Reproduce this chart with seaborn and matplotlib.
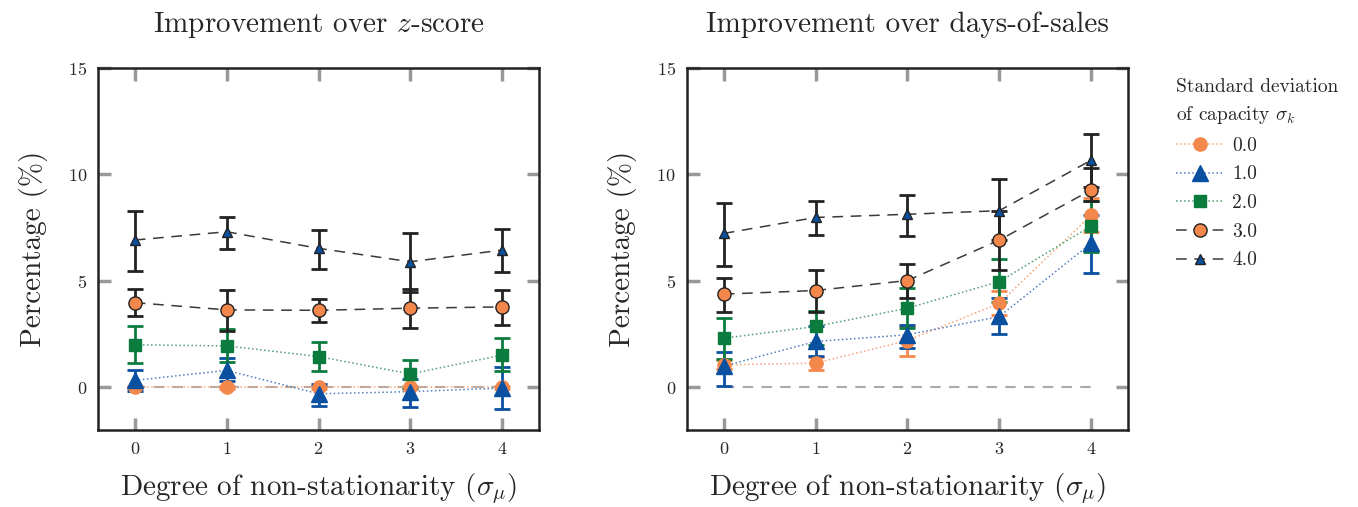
import numpy as np
import pandas as pd
import matplotlib
matplotlib.use("Agg")
import matplotlib.pyplot as plt
import seaborn as sns

# Dados
x = [0, 1, 2, 3, 4]
levels = ["0.0", "1.0", "2.0", "3.0", "4.0"]

# Painel esquerdo: melhoria sobre z-score
z_mean = {
    "0.0": [0.0, 0.0, 0.0, 0.0, 0.0],
    "1.0": [0.33, 0.8, -0.3, -0.2, -0.03],
    "2.0": [2.0, 1.95, 1.45, 0.63, 1.52],
    "3.0": [3.98, 3.64, 3.62, 3.72, 3.78],
    "4.0": [6.92, 7.31, 6.53, 5.9, 6.45],
}
z_lo = {
    "0.0": [-0.08, -0.08, -0.08, -0.08, -0.08],
    "1.0": [-0.19, 0.3, -0.89, -0.94, -1.02],
    "2.0": [1.13, 1.17, 0.75, -0.05, 0.75],
    "3.0": [3.33, 2.67, 3.05, 2.77, 2.95],
    "4.0": [5.48, 6.5, 5.58, 4.5, 5.44],
}
z_hi = {
    "0.0": [0.08, 0.08, 0.08, 0.08, 0.08],
    "1.0": [0.83, 1.4, 0.15, 0.4, 0.98],
    "2.0": [2.86, 2.73, 2.14, 1.3, 2.34],
    "3.0": [4.63, 4.59, 4.16, 4.6, 4.58],
    "4.0": [8.28, 8.02, 7.39, 7.25, 7.44],
}

# Painel direito: melhoria sobre days-of-sales
d_mean = {
    "0.0": [1.06, 1.14, 2.2, 3.95, 8.09],
    "1.0": [1.0, 2.16, 2.47, 3.33, 6.77],
    "2.0": [2.31, 2.86, 3.72, 4.97, 7.58],
    "3.0": [4.38, 4.55, 5.02, 6.92, 9.27],
    "4.0": [7.23, 7.98, 8.13, 8.3, 10.67],
}
d_lo = {
    "0.0": [0.85, 0.8, 1.48, 3.4, 7.3],
    "1.0": [0.05, 1.48, 1.83, 2.52, 5.39],
    "2.0": [1.34, 2.0, 2.78, 4.0, 6.38],
    "3.0": [3.56, 3.56, 4.2, 5.52, 8.75],
    "4.0": [5.72, 7.17, 7.13, 6.9, 9.4],
}
d_hi = {
    "0.0": [1.27, 1.45, 2.9, 4.55, 8.9],
    "1.0": [1.67, 2.9, 2.94, 4.2, 8.1],
    "2.0": [3.28, 3.61, 4.69, 6.03, 8.75],
    "3.0": [5.13, 5.52, 5.8, 8.3, 10.3],
    "4.0": [8.64, 8.75, 9.03, 9.8, 11.89],
}

orange = "#F4874B"
blue = "#0A50A1"
green = "#0B7C3E"

estilos = {
    "0.0": dict(color=orange, marker="o", ms=9.5, mec=orange, ls=":", lcolor="#F7A57A", ecolor=orange),
    "1.0": dict(color=blue, marker="^", ms=11, mec=blue, ls=":", lcolor="#4F7FC0", ecolor=blue),
    "2.0": dict(color=green, marker="s", ms=9, mec=green, ls=":", lcolor="#4FA070", ecolor=green),
    "3.0": dict(color=orange, marker="o", ms=9.5, mec="#222222", ls=(0, (7, 5)), lcolor="#3A3A3A", ecolor="#222222"),
    "4.0": dict(color=blue, marker="^", ms=7.5, mec="#222222", ls=(0, (7, 5)), lcolor="#3A3A3A", ecolor="#222222"),
}

sns.set_style("ticks")
plt.rcParams["font.family"] = ["cmr10", "DejaVu Serif"]
plt.rcParams["mathtext.fontset"] = "cm"
plt.rcParams["axes.formatter.use_mathtext"] = True
plt.rcParams["axes.unicode_minus"] = False

fig = plt.figure(figsize=(13.58, 5.07), dpi=100)
ax1 = fig.add_axes([0.0722, 0.1519, 0.3247, 0.714])
ax2 = fig.add_axes([0.5059, 0.1519, 0.3247, 0.714])


def desenhar(ax, medias, lo, hi, titulo):
    # linha de referência em zero
    sns.lineplot(x=[0, 4], y=[0, 0], ax=ax, color="#AAAAAA", lw=1.5,
                 linestyle=(0, (5, 4)), zorder=1, errorbar=None)
    for k in levels:
        e = estilos[k]
        m = np.array(medias[k])
        yerr = [m - np.array(lo[k]), np.array(hi[k]) - m]
        ax.errorbar(x, m, yerr=yerr, fmt="none", ecolor=e["ecolor"],
                    elinewidth=2, capsize=6, capthick=2, zorder=2)
        df = pd.DataFrame({"x": x, "y": m})
        sns.lineplot(data=df, x="x", y="y", ax=ax, color=e["lcolor"], lw=1.1,
                     linestyle=e["ls"], errorbar=None, zorder=3)
        ax.plot(x, m, linestyle="none", marker=e["marker"], ms=e["ms"],
                mfc=e["color"], mec=e["mec"], mew=1.0, zorder=4)
    ax.set_xlim(-0.4, 4.4)
    ax.set_ylim(-2, 15)
    ax.set_xticks(x)
    ax.set_yticks([0, 5, 10, 15])
    ax.set_title(titulo, fontsize=21, pad=26)
    ax.set_xlabel(r"Degree of non-stationarity ($\sigma_\mu$)", fontsize=21, labelpad=10)
    ax.set_ylabel("Percentage (%)", fontsize=21, labelpad=14)
    ax.tick_params(direction="in", length=9, width=2.5, color="#999999",
                   top=True, right=True, labelsize=13, pad=8)
    for s in ax.spines.values():
        s.set_linewidth(1.8)
        s.set_color("#222222")


desenhar(ax1, z_mean, z_lo, z_hi, r"Improvement over $z$-score")
desenhar(ax2, d_mean, d_lo, d_hi, "Improvement over days-of-sales")

# legenda
handles = []
for k in levels:
    e = estilos[k]
    h, = ax2.plot([], [], color=e["lcolor"], linestyle=e["ls"], lw=1.1,
                  marker=e["marker"], ms=e["ms"], mfc=e["color"], mec=e["mec"], mew=1.0)
    handles.append(h)
leg = fig.legend(handles, levels, title="Standard deviation\nof capacity $\\sigma_k$",
                 loc="upper left", bbox_to_anchor=(0.853, 0.88), frameon=False,
                 fontsize=14, title_fontsize=14, handlelength=2.5, handletextpad=0.4,
                 labelspacing=0.55)
leg._legend_box.align = "left"
leg.get_title().set_linespacing(1.5)

plt.savefig("out.png", dpi=100)
